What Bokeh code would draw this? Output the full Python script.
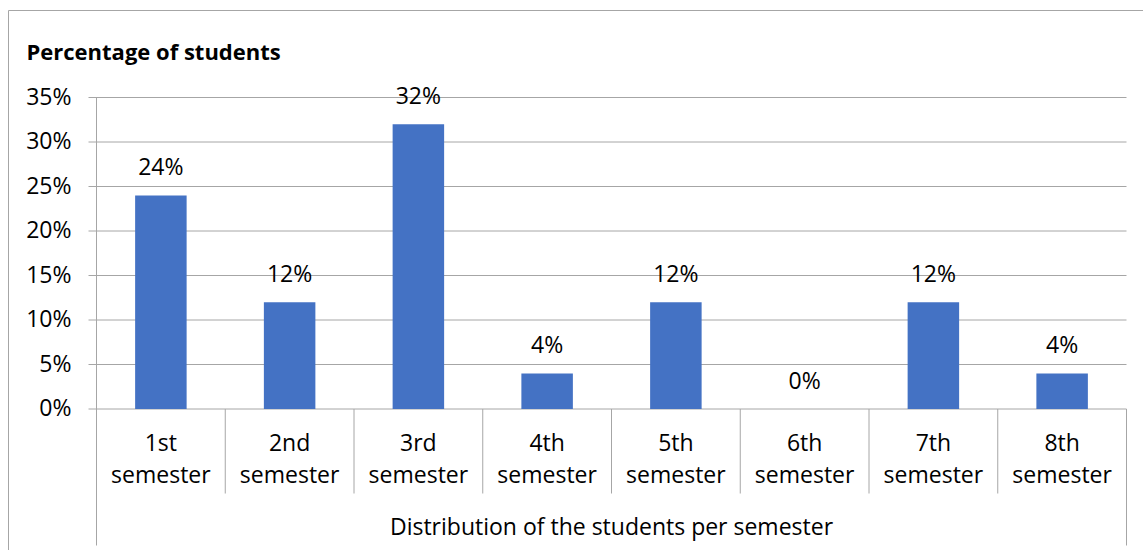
from bokeh.plotting import figure
from bokeh.models import Range1d, Label, ColumnDataSource
from bokeh.core.properties import value
from bokeh.embed import file_html
from bokeh.resources import INLINE

# ---- data ----
semester_ordinals = ["1st", "2nd", "3rd", "4th", "5th", "6th", "7th", "8th"]
semester_word = ["semester"] * 8
percentages = [24, 12, 32, 4, 12, 0, 12, 4]
y_ticks = [0, 5, 10, 15, 20, 25, 30, 35]
y_tick_labels = [f"{t}%" for t in y_ticks]
chart_title = "Percentage of students"
group_label = "Distribution of the students per semester"

# ---- layout (pixels) ----
W, H = 1143, 550
PLOT_LEFT, PLOT_RIGHT = 96, 1126
PLOT_TOP, PLOT_ZERO = 97, 408.5
Y_MAX = 35
n = len(percentages)

px_per_x = (PLOT_RIGHT - PLOT_LEFT) / n
px_per_y = (PLOT_ZERO - PLOT_TOP) / Y_MAX


def dx(px):
    return px / px_per_x


def dy(px):
    return px / px_per_y


x_start = -dx(PLOT_LEFT)
x_end = n + dx(W - PLOT_RIGHT)
y_end = dy(PLOT_ZERO)
y_start = -dy(H - PLOT_ZERO)

FONT = value("Open Sans")
FONT_SIZE = "23px"
TEXT_COLOR = "#000000"
LINE_COLOR = "#A6A6A6"
BAR_COLOR = "#4472C4"

p = figure(width=W, height=H, output_backend="svg", toolbar_location=None,
           x_range=Range1d(x_start, x_end), y_range=Range1d(y_start, y_end),
           x_axis_location=None, y_axis_location=None, min_border=0,
           background_fill_color="white", border_fill_color="white")
p.outline_line_color = None
p.grid.visible = False

centers = [i + 0.5 for i in range(n)]
src = ColumnDataSource(dict(x=centers, top=percentages,
                            ordinal=semester_ordinals, word=semester_word,
                            label=[f"{v}%" for v in percentages]))

# chart border (top and left edges visible)
bx = x_start + dx(8)
by = y_end - dy(10)
p.segment(x0=[bx, bx], y0=[by, by], x1=[x_end, bx], y1=[by, y_start],
          line_color=LINE_COLOR, line_width=1)

# horizontal gridlines with outside tick marks
p.segment(x0=-dx(8), x1=n, y0=y_ticks, y1=y_ticks, line_color=LINE_COLOR, line_width=1)

# value axis line and category boundaries
p.segment(x0=[0, n], x1=[0, n], y0=[Y_MAX, 0], y1=[-dy(136.5), -dy(136.5)],
          line_color=LINE_COLOR, line_width=1)
p.segment(x0=list(range(1, n)), x1=list(range(1, n)), y0=0, y1=-dy(84.5),
          line_color=LINE_COLOR, line_width=1)

# bars
p.vbar(x="x", top="top", bottom=0, width=0.4, source=src,
       fill_color=BAR_COLOR, line_color=None)

# data labels
p.text(x="x", y="top", text="label", source=src, y_offset=-29,
       text_align="center", text_baseline="alphabetic",
       text_font=FONT, text_font_size=FONT_SIZE, text_color=TEXT_COLOR)

# y tick labels
p.text(x=0, y=y_ticks, text=y_tick_labels, x_offset=-25, y_offset=-2,
       text_align="right", text_baseline="middle",
       text_font=FONT, text_font_size=FONT_SIZE, text_color=TEXT_COLOR)

# category labels (two lines)
p.text(x="x", y=0, text="ordinal", source=src, y_offset=33,
       text_align="center", text_baseline="alphabetic",
       text_font=FONT, text_font_size=FONT_SIZE, text_color=TEXT_COLOR)
p.text(x="x", y=0, text="word", source=src, y_offset=65,
       text_align="center", text_baseline="alphabetic",
       text_font=FONT, text_font_size=FONT_SIZE, text_color=TEXT_COLOR)

# group label
p.text(x=[n / 2], y=[0], text=[group_label], y_offset=116.5,
       text_align="center", text_baseline="alphabetic",
       text_font=FONT, text_font_size=FONT_SIZE, text_color=TEXT_COLOR)

# title
p.add_layout(Label(x=26, y=H - 50, x_units="screen", y_units="screen",
                   text=chart_title, text_font="Open Sans", text_font_size="22px",
                   text_font_style="bold", text_color=TEXT_COLOR,
                   text_baseline="alphabetic", text_align="left"))

open("out.html", "w").write(file_html(p, INLINE))
